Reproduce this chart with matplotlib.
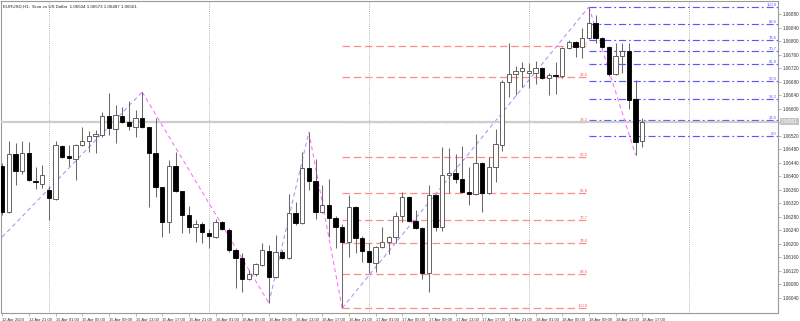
import matplotlib
matplotlib.use("Agg")
import matplotlib.pyplot as plt
import matplotlib.transforms as mtransforms
import numpy as np

plt.rcParams['font.family'] = ['Liberation Sans', 'DejaVu Sans']

title = "EURUSD,H1:  Euro vs US Dollar  1.06504 1.06573 1.06487 1.06561"

opens = [1.06430, 1.06294, 1.06466, 1.06415, 1.06469, 1.06386, 1.06377, 1.06359, 1.06333, 1.06489,
         1.06460, 1.06451, 1.06492, 1.06504, 1.06519, 1.06522, 1.06578, 1.06540, 1.06578, 1.06560,
         1.06546, 1.06572, 1.06546, 1.06469, 1.06368, 1.06265, 1.06430, 1.06356, 1.06285, 1.06250,
         1.06259, 1.06232, 1.06220, 1.06265, 1.06241, 1.06182, 1.06158, 1.06096, 1.06111, 1.06137,
         1.06179, 1.06102, 1.06176, 1.06158, 1.06291, 1.06262, 1.06424, 1.06386, 1.06294, 1.06315,
         1.06276, 1.06250, 1.06205, 1.06309, 1.06217, 1.06179, 1.06143, 1.06191, 1.06205, 1.06220,
         1.06282, 1.06339, 1.06268, 1.06247, 1.06114, 1.06344, 1.06250, 1.06404, 1.06410, 1.06392,
         1.06353, 1.06347, 1.06439, 1.06350, 1.06427, 1.06492, 1.06679, 1.06702, 1.06711, 1.06705,
         1.06705, 1.06720, 1.06691, 1.06700, 1.06697, 1.06779, 1.06797, 1.06782, 1.06809, 1.06853,
         1.06809, 1.06782, 1.06702, 1.06756, 1.06771, 1.06629, 1.06504]
closes = [1.06294, 1.06466, 1.06415, 1.06469, 1.06389, 1.06383, 1.06404, 1.06336, 1.06492, 1.06457,
          1.06454, 1.06492, 1.06504, 1.06519, 1.06525, 1.06578, 1.06543, 1.06581, 1.06560, 1.06549,
          1.06572, 1.06546, 1.06469, 1.06368, 1.06265, 1.06430, 1.06356, 1.06285, 1.06250, 1.06259,
          1.06235, 1.06223, 1.06265, 1.06244, 1.06182, 1.06158, 1.06096, 1.06111, 1.06140, 1.06182,
          1.06102, 1.06176, 1.06158, 1.06291, 1.06262, 1.06424, 1.06386, 1.06294, 1.06315, 1.06276,
          1.06250, 1.06205, 1.06309, 1.06217, 1.06179, 1.06146, 1.06191, 1.06205, 1.06220, 1.06282,
          1.06339, 1.06268, 1.06247, 1.06114, 1.06344, 1.06250, 1.06404, 1.06410, 1.06392, 1.06353,
          1.06347, 1.06439, 1.06350, 1.06427, 1.06495, 1.06679, 1.06702, 1.06711, 1.06720, 1.06711,
          1.06720, 1.06691, 1.06700, 1.06697, 1.06779, 1.06797, 1.06782, 1.06809, 1.06853, 1.06809,
          1.06782, 1.06702, 1.06756, 1.06771, 1.06626, 1.06501, 1.06561]
highs = [1.06439, 1.06504, 1.06498, 1.06504, 1.06501, 1.06427, 1.06433, 1.06371, 1.06504, 1.06492,
         1.06492, 1.06495, 1.06546, 1.06534, 1.06537, 1.06590, 1.06646, 1.06611, 1.06605, 1.06623,
         1.06596, 1.06649, 1.06546, 1.06572, 1.06368, 1.06448, 1.06472, 1.06356, 1.06312, 1.06271,
         1.06265, 1.06244, 1.06273, 1.06268, 1.06247, 1.06185, 1.06173, 1.06123, 1.06143, 1.06202,
         1.06197, 1.06226, 1.06182, 1.06347, 1.06324, 1.06472, 1.06531, 1.06451, 1.06374, 1.06392,
         1.06282, 1.06259, 1.06344, 1.06312, 1.06223, 1.06202, 1.06194, 1.06250, 1.06223, 1.06294,
         1.06353, 1.06342, 1.06300, 1.06250, 1.06374, 1.06347, 1.06486, 1.06484, 1.06466, 1.06489,
         1.06427, 1.06525, 1.06442, 1.06457, 1.06540, 1.06685, 1.06794, 1.06726, 1.06738, 1.06735,
         1.06741, 1.06723, 1.06705, 1.06738, 1.06782, 1.06803, 1.06800, 1.06839, 1.06901, 1.06877,
         1.06812, 1.06785, 1.06794, 1.06794, 1.06794, 1.06685, 1.06573]
lows = [1.06285, 1.06291, 1.06374, 1.06407, 1.06386, 1.06362, 1.06365, 1.06271, 1.06330, 1.06454,
        1.06430, 1.06389, 1.06489, 1.06472, 1.06469, 1.06516, 1.06522, 1.06498, 1.06558, 1.06537,
        1.06516, 1.06543, 1.06309, 1.06339, 1.06220, 1.06232, 1.06353, 1.06232, 1.06232, 1.06205,
        1.06202, 1.06188, 1.06217, 1.06241, 1.06176, 1.06069, 1.06058, 1.06093, 1.06105, 1.06134,
        1.06025, 1.06099, 1.06155, 1.06155, 1.06256, 1.06259, 1.06359, 1.06273, 1.06291, 1.06220,
        1.06188, 1.06010, 1.06161, 1.06173, 1.06146, 1.06114, 1.06117, 1.06188, 1.06170, 1.06202,
        1.06265, 1.06265, 1.06244, 1.06096, 1.06058, 1.06238, 1.06238, 1.06350, 1.06380, 1.06350,
        1.06315, 1.06344, 1.06294, 1.06347, 1.06383, 1.06475, 1.06634, 1.06640, 1.06664, 1.06661,
        1.06673, 1.06688, 1.06640, 1.06643, 1.06691, 1.06776, 1.06753, 1.06750, 1.06806, 1.06794,
        1.06779, 1.06697, 1.06700, 1.06705, 1.06599, 1.06463, 1.06487]

x_tick_bars = list(range(0, 97, 4))
x_tick_labels = ["12 Apr 2024", "12 Apr 21:00", "15 Apr 01:00", "15 Apr 05:00", "15 Apr 09:00",
                 "15 Apr 13:00", "15 Apr 17:00", "15 Apr 21:00", "16 Apr 01:00", "16 Apr 05:00",
                 "16 Apr 09:00", "16 Apr 13:00", "16 Apr 17:00", "16 Apr 21:00", "17 Apr 01:00",
                 "17 Apr 05:00", "17 Apr 09:00", "17 Apr 13:00", "17 Apr 17:00", "17 Apr 21:00",
                 "18 Apr 01:00", "18 Apr 05:00", "18 Apr 09:00", "18 Apr 13:00", "18 Apr 17:00"]
y_ticks = [1.06040, 1.06080, 1.06120, 1.06160, 1.06200, 1.06240, 1.06280, 1.06320, 1.06360,
           1.06400, 1.06440, 1.06480, 1.06520, 1.06560, 1.06600, 1.06640, 1.06680, 1.06720,
           1.06760, 1.06800, 1.06840, 1.06880]
day_separators = [7, 31, 55, 79, 103]

zigzag_bars = [0, 21, 40, 46, 51, 88, 95]
zigzag_prices = [1.06220, 1.06649, 1.06025, 1.06531, 1.06010, 1.06901, 1.06463]

red_fib_levels = [1.06785, 1.06694, 1.06560, 1.06457, 1.06350, 1.06271, 1.06202, 1.06111, 1.06010]
red_fib_labels = ["0.0", "23.6", "38.2", "50.0", "61.8", "70.7", "78.6", "88.6", "100.0"]
red_fib_span = [51, 88]
blue_fib_levels = [1.06901, 1.06850, 1.06803, 1.06771, 1.06732, 1.06682, 1.06629, 1.06566, 1.06519]
blue_fib_labels = ["100.0", "88.6", "78.6", "70.7", "61.8", "50.0", "38.2", "23.6", "0.0"]
blue_fib_start = 88

fig = plt.figure(figsize=(8, 3.21), dpi=100)
fig.patch.set_facecolor('white')
ax = fig.add_axes([1 / 800, 8 / 321, 777 / 800, 312 / 321])
ax.set_xlim(-0.18, 116.37)
ax.set_ylim(1.059954, 1.069184)

# current price line
ax.axhline(closes[-1], color='#cdcdcd', lw=1.6, zorder=2.6)

# day separators
for s in day_separators:
    ax.axvline(s, color='#8a8a8a', lw=0.55, ls=(0, (1, 1.8)), zorder=1)

# fib levels
xmax = ax.get_xlim()[1]
ax.hlines(red_fib_levels, red_fib_span[0], red_fib_span[1], color='#ff8c8c', lw=0.9,
          ls=(0, (6, 3)), zorder=2)
for lv, lb in zip(red_fib_levels, red_fib_labels):
    ax.text(red_fib_span[1] - 0.15, lv, lb, ha='right', va='bottom', fontsize=3.0,
            color='#ff5555', zorder=2)
ax.hlines(blue_fib_levels, blue_fib_start, xmax, color='#5858ff', lw=0.85,
          ls=(0, (6, 2.5, 1.5, 2.5)), zorder=2)
for lv, lb in zip(blue_fib_levels, blue_fib_labels):
    ax.text(xmax - 0.15, lv, lb, ha='right', va='bottom', fontsize=3.0,
            color='#5a5aff', zorder=2)

# zigzag
for k in range(len(zigzag_bars) - 1):
    col = '#b58cf5' if zigzag_prices[k + 1] > zigzag_prices[k] else '#ff6cff'
    ax.plot(zigzag_bars[k:k + 2], zigzag_prices[k:k + 2], color=col, lw=0.75,
            ls=(0, (4, 3)), zorder=2.5)

# candles
o = np.array(opens)
c = np.array(closes)
h = np.array(highs)
l = np.array(lows)
x = np.arange(len(o))
up = c >= o
ax.vlines(x, l, h, color='#6a6a6a', lw=0.75, zorder=3)
bot = np.minimum(o, c)
hgt = np.maximum(np.abs(c - o), 0.000015)
ax.bar(x[up], hgt[up], bottom=bot[up], width=0.64, color='white', edgecolor='#4a4a4a',
       linewidth=0.6, zorder=4)
ax.bar(x[~up], hgt[~up], bottom=bot[~up], width=0.64, color='black', edgecolor='black',
       linewidth=0.6, zorder=4)

# axes styling
for sp in ax.spines.values():
    sp.set_color('#9a9a9a')
    sp.set_linewidth(0.8)
ax.yaxis.tick_right()
ax.set_yticks(y_ticks)
ax.set_yticklabels(["" if abs(v - closes[-1]) < 0.0002 else f"{v:.5f}" for v in y_ticks])
ax.tick_params(axis='y', length=2.5, width=0.5, pad=1.2, labelsize=3.3,
               colors='#9a9a9a', labelcolor='#333333')
ax.set_xticks(x_tick_bars)
ax.set_xticklabels(x_tick_labels)
ax.tick_params(axis='x', length=2.5, width=0.5, pad=1.0, labelsize=3.0,
               colors='#9a9a9a', labelcolor='#333333')
for lbl in ax.get_xticklabels():
    lbl.set_ha('left')

# current price box
trans = mtransforms.blended_transform_factory(ax.transAxes, ax.transData)
ax.text(1.004, closes[-1], f"{closes[-1]:.5f}", transform=trans, ha='left', va='center',
        fontsize=3.3, color='white', clip_on=False, zorder=10,
        bbox=dict(facecolor='#c4c4c4', edgecolor='none', pad=0.8))

fig.text(3 / 800, 1 - 7 / 321, title, ha='left', va='center', fontsize=3.2, color='#222222')

fig.savefig('out.png', dpi=100, facecolor='white')
